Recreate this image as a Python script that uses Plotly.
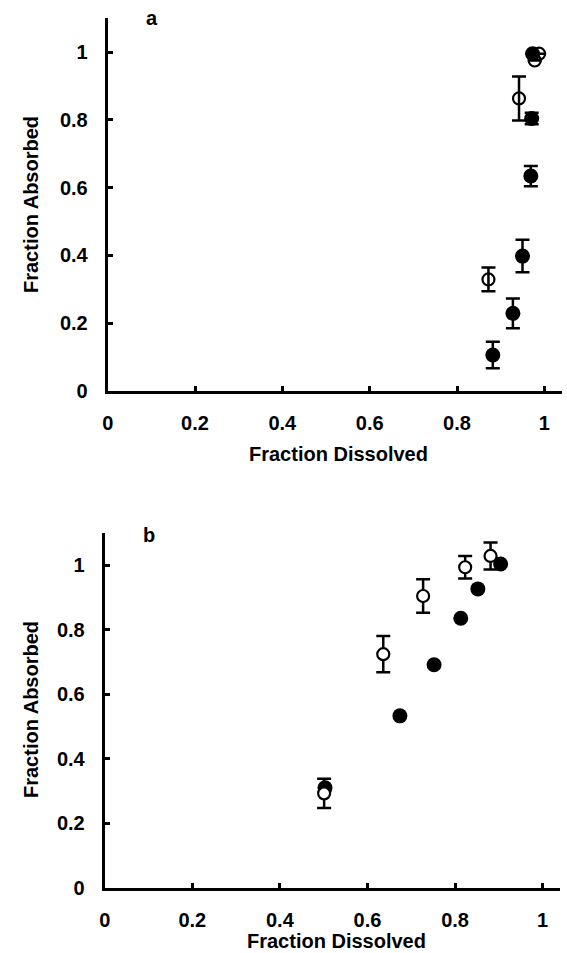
import plotly.graph_objects as go

# Panel a
a_filled_x = [0.882, 0.928, 0.950, 0.969, 0.971, 0.973]
a_filled_y = [0.106, 0.229, 0.398, 0.634, 0.804, 0.995]
a_filled_err = [0.039, 0.044, 0.048, 0.030, 0.017, 0.0]
a_open_x = [0.872, 0.942, 0.978, 0.988]
a_open_y = [0.329, 0.863, 0.975, 0.995]
a_open_err = [0.035, 0.065, 0.0, 0.0]

# Panel b
b_filled_x = [0.503, 0.674, 0.752, 0.813, 0.852, 0.904]
b_filled_y = [0.310, 0.533, 0.691, 0.835, 0.926, 1.003]
b_open_x = [0.501, 0.636, 0.727, 0.823, 0.881]
b_open_y = [0.293, 0.724, 0.904, 0.993, 1.028]
b_open_err = [0.045, 0.056, 0.052, 0.035, 0.042]

tick_vals_x = [0, 0.2, 0.4, 0.6, 0.8, 1]
tick_text_x = ["0", "0.2", "0.4", "0.6", "0.8", "1"]
tick_vals_y = [0, 0.2, 0.4, 0.6, 0.8, 1]
tick_text_y = ["0", "0.2", "0.4", "0.6", "0.8", "1"]

W, H = 567, 953
FONT = "Liberation Sans"

fig = go.Figure()

def err(arr):
    return dict(type="data", array=arr, visible=True, color="black", thickness=2.5, width=7)

fig.add_trace(go.Scatter(x=a_open_x, y=a_open_y, mode="markers", xaxis="x", yaxis="y",
                         error_y=err(a_open_err),
                         marker=dict(symbol="circle", size=12, color="rgba(255,255,255,0)",
                                     line=dict(color="black", width=2.2)), showlegend=False))
fig.add_trace(go.Scatter(x=a_filled_x, y=a_filled_y, mode="markers", xaxis="x", yaxis="y",
                         error_y=err(a_filled_err),
                         marker=dict(symbol="circle", size=15, color="black"), showlegend=False))
fig.add_trace(go.Scatter(x=b_filled_x, y=b_filled_y, mode="markers", xaxis="x2", yaxis="y2",
                         marker=dict(symbol="circle", size=15, color="black"), showlegend=False))
fig.add_trace(go.Scatter(x=b_open_x, y=b_open_y, mode="markers", xaxis="x2", yaxis="y2",
                         error_y=err(b_open_err),
                         marker=dict(symbol="circle", size=12, color="white",
                                     line=dict(color="black", width=2.2)), showlegend=False))

def xax(domain, anchor):
    return dict(domain=domain, anchor=anchor, range=[0, 1.04], showline=True, linewidth=3,
                linecolor="black", ticks="inside", ticklen=5, tickwidth=3, tickcolor="black",
                tickvals=tick_vals_x, ticktext=tick_text_x, showgrid=False, zeroline=False,
                tickfont=dict(family=FONT, size=20, color="black", weight="bold"),
                ticklabelstandoff=12, automargin=False)

def yax(domain, anchor):
    return dict(domain=domain, anchor=anchor, range=[0, 1.1], showline=True, linewidth=3,
                linecolor="black", ticks="inside", ticklen=5, tickwidth=3, tickcolor="black",
                tickvals=tick_vals_y, ticktext=tick_text_y, showgrid=False, zeroline=False,
                tickfont=dict(family=FONT, size=20, color="black", weight="bold"),
                ticklabelstandoff=13, automargin=False)

fig.update_layout(
    width=W, height=H,
    margin=dict(l=0, r=0, t=0, b=0, autoexpand=False),
    paper_bgcolor="white", plot_bgcolor="white",
    xaxis=xax([107.7 / W, 561.8 / W], "y"),
    yaxis=yax([1 - 391 / H, 1 - 18.1 / H], "x"),
    xaxis2=xax([104.7 / W, 560.2 / W], "y2"),
    yaxis2=yax([1 - 888 / H, 1 - 532.7 / H], "x2"),
)

ann_font = dict(family=FONT, size=20, color="black", weight="bold")
annotations = [
    dict(text="a", x=152 / W, y=1 - 18 / H),
    dict(text="b", x=149 / W, y=1 - 535 / H),
    dict(text="Fraction Dissolved", x=338 / W, y=1 - 454 / H),
    dict(text="Fraction Dissolved", x=336 / W, y=1 - 941 / H),
    dict(text="Fraction Absorbed", x=31 / W, y=1 - 205 / H, textangle=-90),
    dict(text="Fraction Absorbed", x=31 / W, y=1 - 710 / H, textangle=-90),
]
for a in annotations:
    fig.add_annotation(xref="paper", yref="paper", showarrow=False, xanchor="center",
                       yanchor="middle", font=ann_font, **a)

fig.write_html("out.html", config={"displayModeBar": False},
               post_script="document.body.style.margin='0';document.body.style.padding='0';"
                           "document.body.style.overflow='hidden';")
